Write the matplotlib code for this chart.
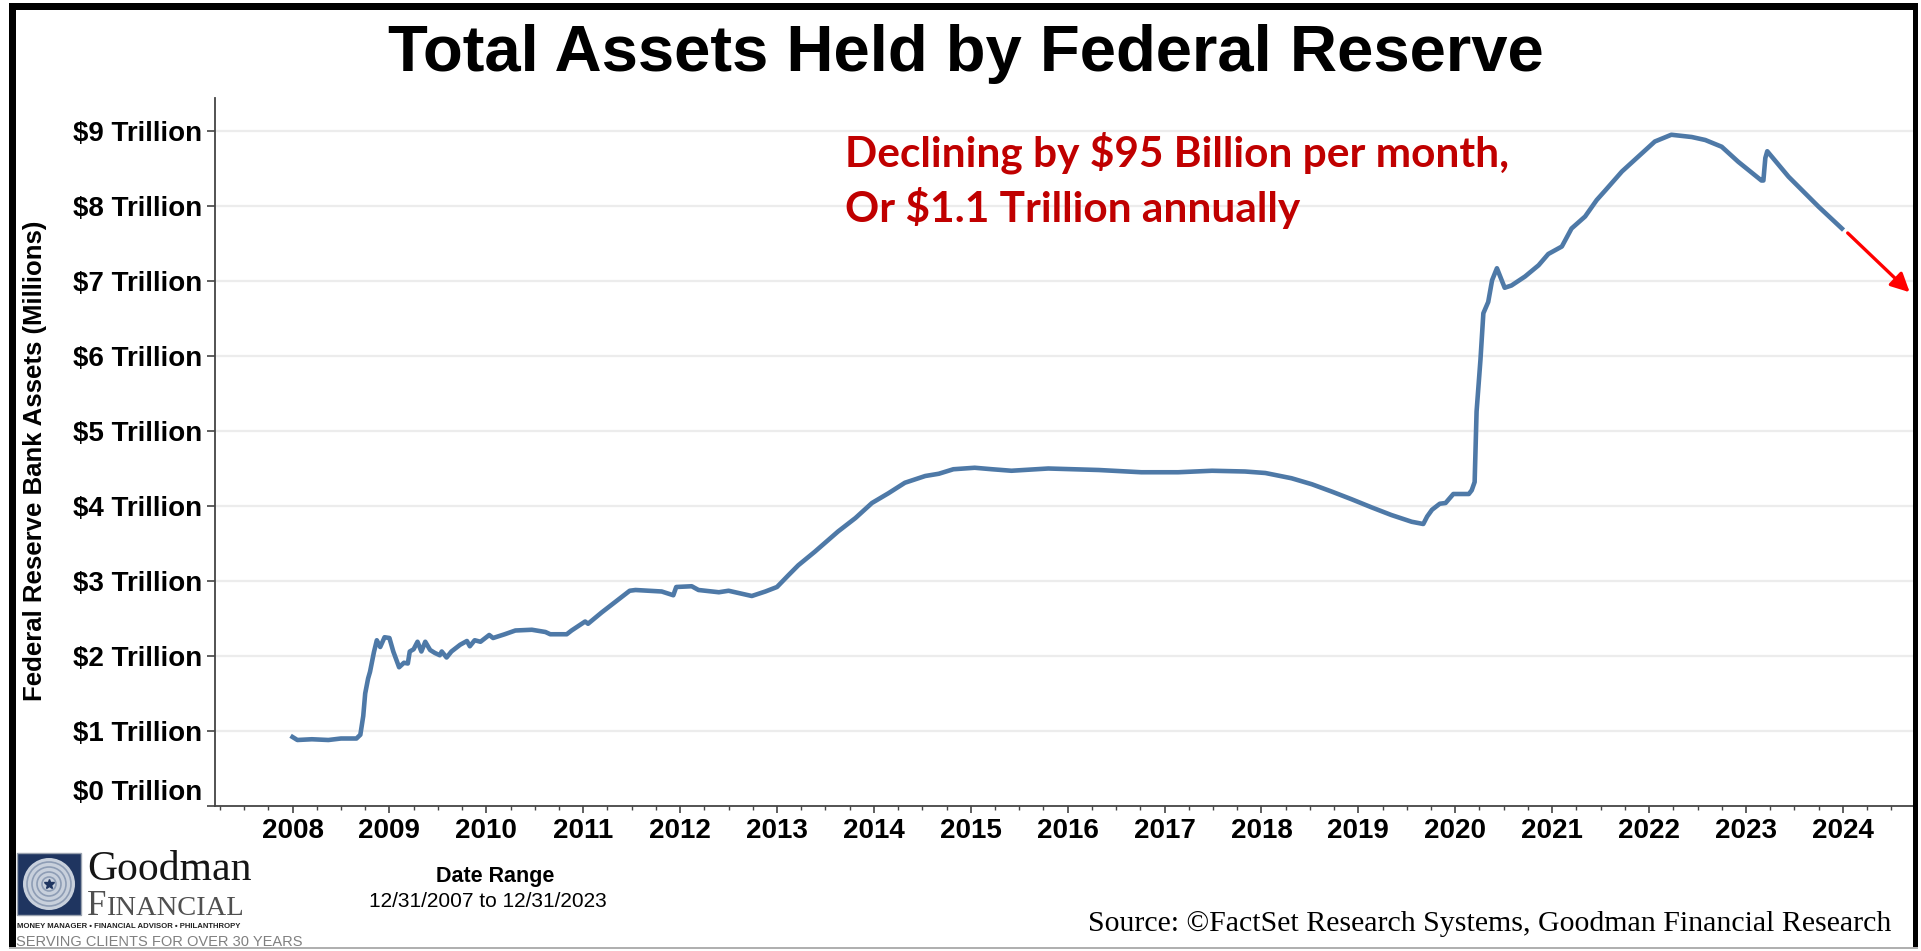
import matplotlib
matplotlib.use("Agg")
import matplotlib.pyplot as plt
from matplotlib.patches import Rectangle, Circle
from matplotlib.ticker import MultipleLocator

# Fed balance sheet (decimal year, $ trillions)
years = [2008.00, 2008.05, 2008.20, 2008.37, 2008.50, 2008.66, 2008.70, 2008.73,
         2008.75, 2008.78, 2008.80, 2008.84, 2008.87, 2008.905, 2008.95, 2009.00,
         2009.04, 2009.10, 2009.15, 2009.19, 2009.21, 2009.25, 2009.29, 2009.33,
         2009.37, 2009.42, 2009.47, 2009.52, 2009.54, 2009.59, 2009.64, 2009.73,
         2009.80, 2009.83, 2009.88, 2009.94, 2010.03, 2010.07, 2010.19, 2010.30,
         2010.47, 2010.61, 2010.66, 2010.83, 2010.88, 2011.02, 2011.05, 2011.19,
         2011.33, 2011.48, 2011.54, 2011.81, 2011.93, 2011.96, 2012.12, 2012.19,
         2012.40, 2012.50, 2012.74, 2012.88, 2013.00, 2013.12, 2013.22, 2013.39,
         2013.63, 2013.81, 2013.98, 2014.15, 2014.32, 2014.53, 2014.67, 2014.82,
         2015.04, 2015.22, 2015.42, 2015.80, 2016.32, 2016.76, 2017.14, 2017.49,
         2017.83, 2018.04, 2018.31, 2018.52, 2018.73, 2018.93, 2019.14, 2019.34,
         2019.55, 2019.67, 2019.71, 2019.76, 2019.84, 2019.90, 2019.98, 2020.14,
         2020.17, 2020.20, 2020.22, 2020.26, 2020.29, 2020.34, 2020.38, 2020.43,
         2020.51, 2020.58, 2020.72, 2020.86, 2020.96, 2021.10, 2021.20, 2021.34,
         2021.46, 2021.55, 2021.72, 2021.89, 2022.06, 2022.23, 2022.44, 2022.58,
         2022.75, 2022.92, 2023.16, 2023.18, 2023.20, 2023.22, 2023.44, 2023.61,
         2023.75, 2023.99]
assets = [0.92, 0.88, 0.89, 0.88, 0.90, 0.90, 0.95, 1.20,
          1.50, 1.70, 1.79, 2.05, 2.21, 2.12, 2.25, 2.24,
          2.06, 1.85, 1.91, 1.90, 2.06, 2.09, 2.19, 2.06,
          2.19, 2.08, 2.04, 2.01, 2.06, 1.98, 2.06, 2.15,
          2.20, 2.13, 2.21, 2.19, 2.28, 2.24, 2.29, 2.34,
          2.35, 2.32, 2.29, 2.29, 2.34, 2.46, 2.43, 2.58,
          2.72, 2.87, 2.88, 2.86, 2.81, 2.92, 2.93, 2.88,
          2.85, 2.87, 2.80, 2.86, 2.92, 3.08, 3.21, 3.39,
          3.66, 3.84, 4.04, 4.17, 4.31, 4.40, 4.43, 4.49,
          4.51, 4.49, 4.47, 4.50, 4.48, 4.45, 4.45, 4.47,
          4.46, 4.44, 4.37, 4.29, 4.19, 4.09, 3.98, 3.88,
          3.79, 3.76, 3.86, 3.95, 4.03, 4.04, 4.16, 4.16,
          4.21, 4.32, 5.26, 5.95, 6.57, 6.72, 7.01, 7.17,
          6.91, 6.94, 7.06, 7.21, 7.36, 7.46, 7.70, 7.86,
          8.08, 8.21, 8.46, 8.66, 8.86, 8.95, 8.92, 8.88,
          8.79, 8.59, 8.34, 8.34, 8.64, 8.73, 8.39, 8.17,
          7.99, 7.70]

y_ticks = list(range(10))
y_labels = [f"${v} Trillion" for v in y_ticks]
x_ticks = list(range(2008, 2025))

title = "Total Assets Held by Federal Reserve"
note_lines = ["Declining by $95 Billion per month,", "Or $1.1 Trillion annually"]
arrow_from = (2024.05, 7.64)
arrow_to = (2024.69, 6.85)

fig = plt.figure(figsize=(19.21, 9.51), dpi=100, facecolor="white")
W, H = 1921, 951

# main chart area in pixel terms: x 215..1916, y 98..806
ax = fig.add_axes([215 / W, 1 - 806 / H, (1916 - 215) / W, (806 - 98) / H])
ax.plot(years, assets, color="#4e79a7", lw=3.3, solid_joinstyle="round", zorder=3)

ax.set_xlim(2007.2, 2024.755)
ax.set_ylim(0, 9.44)
ax.set_yticks(y_ticks, y_labels)
ax.set_xticks(x_ticks, [str(y) for y in x_ticks])
ax.xaxis.set_minor_locator(MultipleLocator(0.25))
for t in ax.get_yticklabels() + ax.get_xticklabels():
    t.set_fontfamily("Liberation Sans")
    t.set_fontweight("bold")
    t.set_fontsize(20)
# the $0 label sits just above the axis line in the reference
ax.yaxis.get_major_ticks()[0].label1.set_verticalalignment("bottom")

for y in y_ticks[1:]:
    ax.axhline(y, color="#ececec", lw=1.6, zorder=1)

for s in ["top", "right"]:
    ax.spines[s].set_visible(False)
for s in ["left", "bottom"]:
    ax.spines[s].set_color("#444444")
    ax.spines[s].set_linewidth(1.3)
ax.tick_params(axis="y", length=6, width=1.2, color="#444444", pad=3)
ax.tick_params(axis="x", which="major", length=5, width=1.2, color="#444444", pad=4)
ax.tick_params(axis="x", which="minor", length=3, width=1.0, color="#444444")

ax.annotate("", xy=arrow_to, xytext=arrow_from, annotation_clip=False,
            arrowprops=dict(arrowstyle="-|>", color="#ff0000", lw=2.4,
                            mutation_scale=28, shrinkA=0, shrinkB=0))

# overlay in pixel coordinates for titles, notes, logo and frame
ov = fig.add_axes([0, 0, 1, 1])
ov.set_xlim(0, W)
ov.set_ylim(H, 0)
ov.axis("off")

ov.text(966, 71, title, ha="center", va="baseline", fontsize=47,
        fontweight="bold", family="Liberation Sans")
ov.text(845, 167, note_lines[0], ha="left", va="baseline", fontsize=30.5,
        fontweight="bold", family="Lato", color="#c00000")
ov.text(845, 222, note_lines[1], ha="left", va="baseline", fontsize=30.5,
        fontweight="bold", family="Lato", color="#c00000")

ov.text(35, 461, "Federal Reserve Bank Assets (Millions)", rotation=90,
        ha="center", va="center", fontsize=18.5, fontweight="bold",
        family="Liberation Sans")

ov.text(495, 882, "Date Range", ha="center", va="baseline", fontsize=15.5,
        fontweight="bold", family="Liberation Sans")
ov.text(488, 907, "12/31/2007 to 12/31/2023", ha="center", va="baseline",
        fontsize=15, family="Liberation Sans")
ov.text(1891, 931, "Source: \u00a9FactSet Research Systems, Goodman Financial Research",
        ha="right", va="baseline", fontsize=21.5, family="Liberation Serif")

# logo
ov.add_patch(Rectangle((17, 853), 64, 62, facecolor="#1f3560", edgecolor="#9aa3b0", lw=1))
ov.add_patch(Circle((49, 884), 26, facecolor="#c8d0dc", edgecolor="none"))
for r in [22, 17, 12, 7]:
    ov.add_patch(Circle((49, 884), r, facecolor="none", edgecolor="#8e9db5", lw=1.2))
ov.plot([49], [884], marker="*", color="#1f3560", markersize=7)
ov.text(87, 880, "Goodman", ha="left", va="baseline", fontsize=30,
        family="Liberation Serif", color="#151515")
ov.text(87, 915, "F", ha="left", va="baseline", fontsize=25,
        family="Liberation Serif", color="#505050")
ov.text(106, 915, "INANCIAL", ha="left", va="baseline", fontsize=20.5,
        family="Liberation Serif", color="#505050")
ov.text(17, 927.5, "MONEY MANAGER \u2022 FINANCIAL ADVISOR \u2022 PHILANTHROPY",
        ha="left", va="baseline", fontsize=5.6, fontweight="bold",
        family="Liberation Sans", color="#222222")
ov.text(16, 946, "SERVING CLIENTS FOR OVER 30 YEARS", ha="left", va="baseline",
        fontsize=10.5, family=["Liberation Sans Narrow", "Liberation Sans"],
        color="#808080")

# outer frame
ov.add_patch(Rectangle((9, 3), 1909, 7, facecolor="black", edgecolor="none"))
ov.add_patch(Rectangle((9, 3), 7, 945, facecolor="black", edgecolor="none"))
ov.add_patch(Rectangle((1913, 3), 5, 945, facecolor="black", edgecolor="none"))
ov.add_patch(Rectangle((9, 947), 1909, 2, facecolor="#b0b0b0", edgecolor="none"))

fig.savefig("out.png", dpi=100, facecolor="white")
